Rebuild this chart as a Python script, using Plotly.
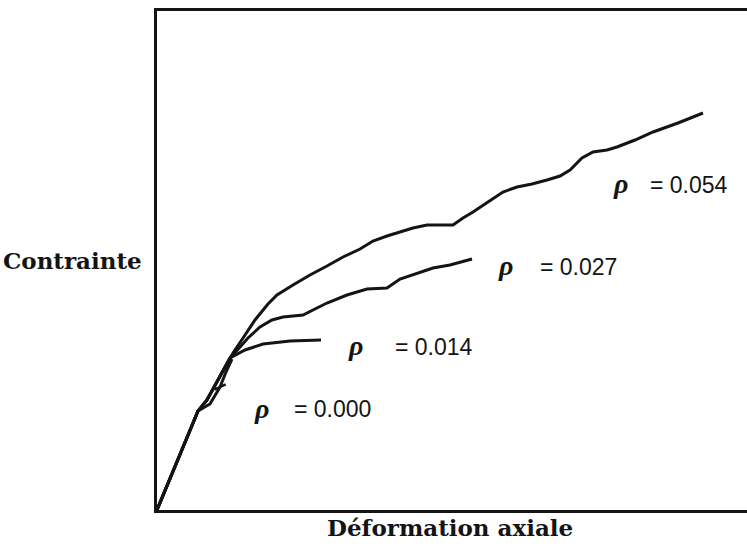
import plotly.graph_objects as go

# Stress–strain curves (arbitrary units) for several reinforcement ratios
rho_labels = ["0.000", "0.014", "0.027", "0.054"]

# common elastic branch shared by the reinforced specimens
shared_x = [0.0, 0.695, 0.847, 0.949, 1.102, 1.237]
shared_y = [0.0, 9.9, 11.0, 12.1, 13.8, 15.2]

# unreinforced specimen
x_000 = [0.0, 0.695, 0.898, 1.068, 1.169, 1.271]
y_000 = [0.0, 9.9, 10.6, 12.3, 13.8, 15.1]
fail_000 = (1.068, 12.3)

x_014 = [1.492, 1.797, 2.254, 2.780]
y_014 = [16.0, 16.6, 16.9, 17.0]

x_027 = [1.288, 1.542, 1.746, 1.949, 2.136, 2.475, 2.678, 2.881, 3.220,
         3.559, 3.898, 4.119, 4.678, 4.966, 5.339]
y_027 = [15.5, 17.2, 18.3, 19.0, 19.3, 19.5, 20.1, 20.7, 21.5,
         22.1, 22.2, 23.1, 24.2, 24.5, 25.1]

x_054 = [1.288, 1.458, 1.661, 1.881, 2.034, 2.305, 2.593, 2.881, 3.153,
         3.441, 3.661, 3.898, 4.119, 4.339, 4.576, 4.797, 5.017, 5.186,
         5.356, 5.610, 5.864, 6.102, 6.356, 6.610, 6.831, 7.000, 7.203,
         7.390, 7.627, 7.797, 8.102, 8.407, 8.831, 9.254]
y_054 = [15.7, 17.2, 19.0, 20.6, 21.5, 22.5, 23.5, 24.4, 25.3,
         26.1, 26.9, 27.4, 27.8, 28.2, 28.5, 28.5, 28.5, 29.2,
         29.8, 30.8, 31.8, 32.3, 32.6, 33.0, 33.4, 34.0, 35.2,
         35.8, 36.0, 36.3, 37.0, 37.8, 38.7, 39.7]

# label anchor positions: (rho symbol x, y), (value text x, y)
rho_pos = [(1.763, 10.2), (3.356, 16.5), (5.915, 24.5), (7.864, 32.7)]
val_pos = [(2.288, 10.1), (4.000, 16.3), (6.458, 24.3), (8.322, 32.5)]

INK = "#141414"
LW = 3

fig = go.Figure()

line = dict(color=INK, width=LW)
fig.add_trace(go.Scatter(x=x_000, y=y_000, mode="lines", line=line,
                         name="ρ = 0.000"))
fig.add_trace(go.Scatter(x=fail_000[:1], y=fail_000[1:], mode="markers",
                         marker=dict(symbol="line-ew", size=9, angle=-25,
                                     line=dict(color=INK, width=2.4)),
                         name="rupture"))
for xs, ys, lab in [(x_014, y_014, "0.014"),
                    (x_027, y_027, "0.027"),
                    (x_054, y_054, "0.054")]:
    fig.add_trace(go.Scatter(x=shared_x + xs, y=shared_y + ys, mode="lines",
                             line=line, name="ρ = " + lab))

for lab, (rx, ry), (vx, vy) in zip(rho_labels, rho_pos, val_pos):
    fig.add_annotation(x=rx, y=ry, text="<b><i>ρ</i></b>", showarrow=False,
                       xanchor="center", yanchor="middle",
                       font=dict(family="Liberation Serif", size=28, color=INK))
    fig.add_annotation(x=vx, y=vy, text="= " + lab, showarrow=False,
                       xanchor="left", yanchor="middle",
                       font=dict(family="Liberation Sans", size=23, color=INK))

# axis titles
fig.add_annotation(x=-0.022, y=0.5, xref="paper", yref="paper",
                   text="<b>Contrainte</b>", showarrow=False,
                   xanchor="right", yanchor="middle",
                   font=dict(family="DejaVu Serif", size=23, color=INK))
fig.add_annotation(x=0.497, y=-0.036, xref="paper", yref="paper",
                   text="<b>Déformation axiale</b>", showarrow=False,
                   xanchor="center", yanchor="middle",
                   font=dict(family="DejaVu Serif", size=23, color=INK))

fig.update_layout(
    width=747, height=546,
    margin=dict(l=157, r=0, t=11, b=36),
    paper_bgcolor="white", plot_bgcolor="white",
    showlegend=False,
)
fig.update_xaxes(range=[0, 10], showgrid=False, zeroline=False,
                 showticklabels=False, ticks="", showline=True,
                 linecolor=INK, linewidth=2.8, mirror=True)
fig.update_yaxes(range=[0, 49.9], showgrid=False, zeroline=False,
                 showticklabels=False, ticks="", showline=True,
                 linecolor=INK, linewidth=2.8, mirror=False)

fig.write_html("out.html")
